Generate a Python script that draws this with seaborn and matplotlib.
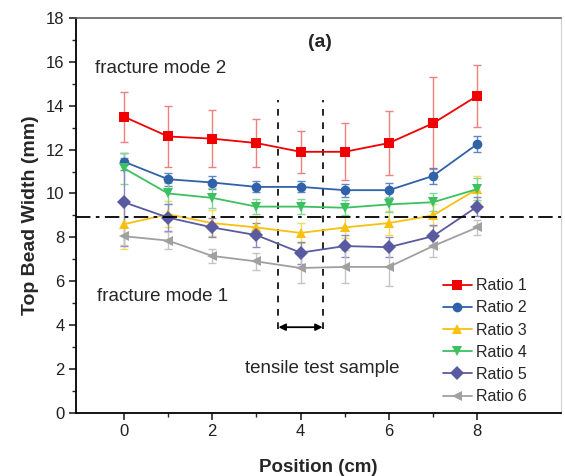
import matplotlib

matplotlib.use("Agg")
import matplotlib.pyplot as plt
import pandas as pd
import seaborn as sns

# data
positions = [0, 1, 2, 3, 4, 5, 6, 7, 8]
ratio_names = ["Ratio 1", "Ratio 2", "Ratio 3", "Ratio 4", "Ratio 5", "Ratio 6"]

ratio1 = [13.5, 12.6, 12.5, 12.3, 11.9, 11.9, 12.3, 13.2, 14.45]
ratio2 = [11.45, 10.65, 10.5, 10.3, 10.3, 10.15, 10.15, 10.8, 12.25]
ratio3 = [8.6, 9.05, 8.65, 8.45, 8.2, 8.45, 8.65, 9.0, 10.2]
ratio4 = [11.15, 10.0, 9.8, 9.4, 9.4, 9.35, 9.5, 9.6, 10.2]
ratio5 = [9.6, 8.9, 8.45, 8.1, 7.3, 7.6, 7.55, 8.05, 9.4]
ratio6 = [8.05, 7.85, 7.15, 6.9, 6.6, 6.65, 6.65, 7.6, 8.45]

err1 = [1.15, 1.4, 1.3, 1.1, 0.95, 1.3, 1.45, 2.1, 1.4]
err2 = [0.4, 0.3, 0.3, 0.25, 0.25, 0.3, 0.35, 0.35, 0.35]
err3 = [1.15, 0.6, 0.6, 0.5, 0.45, 0.5, 0.55, 0.5, 0.6]
err4 = [0.7, 0.5, 0.45, 0.35, 0.35, 0.35, 0.35, 0.4, 0.5]
err5 = [2.0, 0.6, 0.45, 0.55, 0.5, 0.5, 0.45, 0.5, 0.45]
err6 = [0.4, 0.4, 0.3, 0.4, 0.7, 0.75, 0.85, 0.5, 0.35]

colors = ["#f00000", "#2f62a8", "#f8c010", "#3cc060", "#5a5aa0", "#a0a0a0"]
err_colors = ["#f07f7f", "#5f86bf", "#f8d860", "#80d898", "#8a8ac0", "#c4c4c4"]
markers = ["s", "o", "^", "v", "D", "<"]

threshold = 8.93
sample_left, sample_right = 3.5, 4.5

values = [ratio1, ratio2, ratio3, ratio4, ratio5, ratio6]
errors = [err1, err2, err3, err4, err5, err6]

df = pd.DataFrame(
    [
        {"position": p, "width": v, "err": e, "ratio": name}
        for name, vals, errs in zip(ratio_names, values, errors)
        for p, v, e in zip(positions, vals, errs)
    ]
)

sns.set_theme(style="ticks")
plt.rcParams["font.family"] = ["Liberation Sans", "DejaVu Sans"]

fig, ax = plt.subplots(figsize=(5.65, 4.76), dpi=100)
fig.subplots_adjust(left=0.135, right=0.993, bottom=0.133, top=0.962)

for name, ecol in zip(ratio_names, err_colors):
    sub = df[df["ratio"] == name]
    ax.errorbar(
        sub["position"], sub["width"], yerr=sub["err"], fmt="none",
        ecolor=ecol, elinewidth=1.0, capsize=3, capthick=1.0, zorder=2,
    )

sns.lineplot(
    data=df, x="position", y="width", hue="ratio", style="ratio",
    hue_order=ratio_names, style_order=ratio_names,
    palette=dict(zip(ratio_names, colors)),
    markers=dict(zip(ratio_names, markers)), dashes=False,
    markersize=7, markeredgewidth=0, linewidth=1.3, ax=ax, zorder=3,
)

ax.axhline(threshold, color="black", linestyle=(0, (8, 3, 2, 3)), linewidth=1.3, zorder=4)
for xv in (sample_left, sample_right):
    ax.plot([xv, xv], [3.8, 14.25], color="black", linestyle=(0, (4, 4)), linewidth=1.2)
ax.annotate(
    "", xy=(sample_left, 3.9), xytext=(sample_right, 3.9),
    arrowprops=dict(arrowstyle="<|-|>", color="black", lw=1.3, mutation_scale=10,
                    shrinkA=0, shrinkB=0),
)

ax.text(-0.65, 15.7, "fracture mode 2", fontsize=13.5, va="center")
ax.text(-0.6, 5.3, "fracture mode 1", fontsize=13.5, va="center")
ax.text(4.5, 2.0, "tensile test sample", fontsize=13.5, ha="center", va="center")
ax.text(4.45, 16.9, "(a)", fontsize=14, fontweight="bold", ha="center", va="center")

ax.set_xlim(-1.08, 9.9)
ax.set_ylim(0, 18)
ax.set_xticks([0, 2, 4, 6, 8])
ax.set_xticks([1, 3, 5, 7], minor=True)
ax.set_yticks(range(0, 19, 2))
ax.set_yticks(range(1, 18, 2), minor=True)
ax.tick_params(axis="both", which="major", length=5, width=1.2, labelsize=12,
               direction="out", labelcolor="#202020")
ax.tick_params(axis="both", which="minor", length=3, width=1.0, direction="out")

ax.set_xlabel("Position (cm)", fontsize=13.5, fontweight="bold", labelpad=14)
ax.set_ylabel("Top Bead Width (mm)", fontsize=14, fontweight="bold", labelpad=5)

for side in ("left", "bottom"):
    ax.spines[side].set_linewidth(1.3)
    ax.spines[side].set_color("black")
ax.spines["top"].set_color("#606060")
ax.spines["top"].set_linewidth(1.2)
ax.spines["right"].set_color("#d0d0d0")
ax.spines["right"].set_linewidth(0.8)

leg = ax.legend(
    title=None, loc="lower right", bbox_to_anchor=(0.96, -0.015), frameon=False,
    fontsize=11.5, handlelength=1.8, handletextpad=0.3, labelspacing=0.45,
)

fig.savefig("out.png", dpi=100)
